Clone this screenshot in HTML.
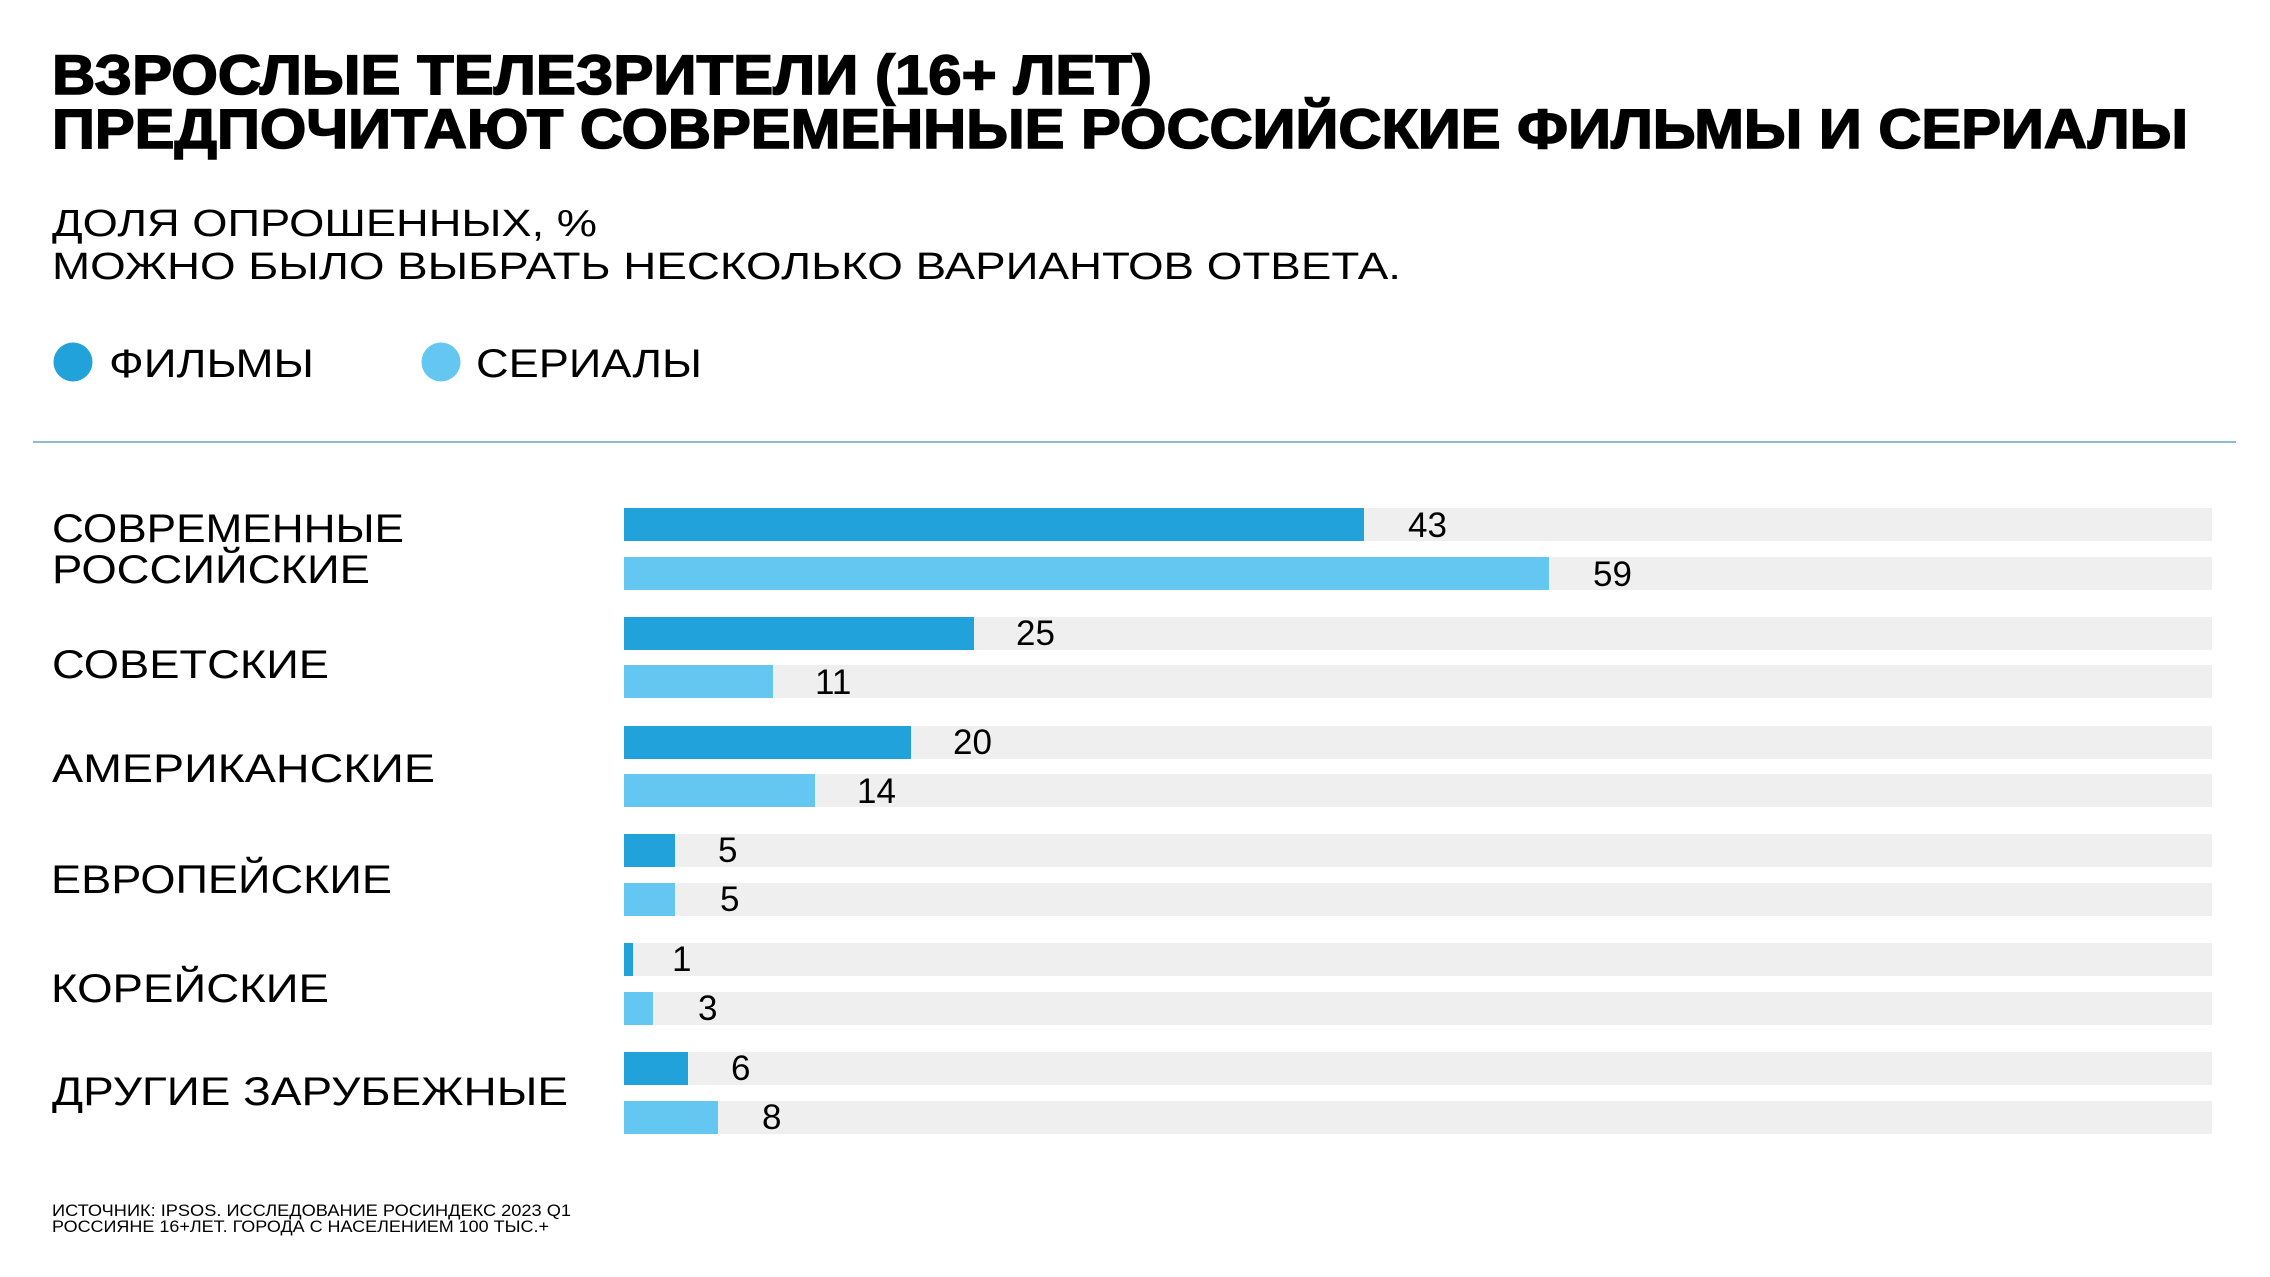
<!DOCTYPE html>
<html>
<head>
<meta charset="utf-8">
<style>
  html, body { margin: 0; padding: 0; background: #ffffff; }
  svg { display: block; }
  .t { font-family: "Liberation Sans", "Noto Sans CJK SC", sans-serif; fill: #000; }
  .b { font-weight: bold; stroke: #000; stroke-width: 1.6; }
</style>
</head>
<body>
<svg width="2270" height="1277" viewBox="0 0 2270 1277" xmlns="http://www.w3.org/2000/svg">
  <rect x="0" y="0" width="2270" height="1277" fill="#ffffff"/>

  <!-- Title -->
  <text class="t b" x="52" y="94" font-size="56" textLength="1100" lengthAdjust="spacingAndGlyphs">ВЗРОСЛЫЕ ТЕЛЕЗРИТЕЛИ (16+ ЛЕТ)</text>
  <text class="t b" x="52" y="148" font-size="56" textLength="2136" lengthAdjust="spacingAndGlyphs">ПРЕДПОЧИТАЮТ СОВРЕМЕННЫЕ РОССИЙСКИЕ ФИЛЬМЫ И СЕРИАЛЫ</text>

  <!-- Subtitle -->
  <text class="t" x="52" y="236" font-size="38" textLength="545" lengthAdjust="spacingAndGlyphs">ДОЛЯ ОПРОШЕННЫХ, %</text>
  <text class="t" x="52" y="279" font-size="38" textLength="1349" lengthAdjust="spacingAndGlyphs">МОЖНО БЫЛО ВЫБРАТЬ НЕСКОЛЬКО ВАРИАНТОВ ОТВЕТА.</text>

  <!-- Legend -->
  <circle cx="73" cy="362" r="19.5" fill="#21a2db"/>
  <text class="t" x="109" y="377" font-size="40" textLength="205" lengthAdjust="spacingAndGlyphs">ФИЛЬМЫ</text>
  <circle cx="441" cy="362" r="19.5" fill="#63c7f1"/>
  <text class="t" x="476" y="377" font-size="40" textLength="226" lengthAdjust="spacingAndGlyphs">СЕРИАЛЫ</text>

  <!-- Divider -->
  <rect x="33" y="441" width="2203" height="2" fill="#8fbad6"/>

  <!-- Tracks -->
  <g fill="#efefef">
    <rect x="624" y="508" width="1588" height="33"/>
    <rect x="624" y="557" width="1588" height="33"/>
    <rect x="624" y="617" width="1588" height="33"/>
    <rect x="624" y="665" width="1588" height="33"/>
    <rect x="624" y="726" width="1588" height="33"/>
    <rect x="624" y="774" width="1588" height="33"/>
    <rect x="624" y="834" width="1588" height="33"/>
    <rect x="624" y="883" width="1588" height="33"/>
    <rect x="624" y="943" width="1588" height="33"/>
    <rect x="624" y="992" width="1588" height="33"/>
    <rect x="624" y="1052" width="1588" height="33"/>
    <rect x="624" y="1101" width="1588" height="33"/>
  </g>

  <!-- Film bars -->
  <g fill="#21a2db">
    <rect x="624" y="508" width="740" height="33"/>
    <rect x="624" y="617" width="350" height="33"/>
    <rect x="624" y="726" width="287" height="33"/>
    <rect x="624" y="834" width="51" height="33"/>
    <rect x="624" y="943" width="9" height="33"/>
    <rect x="624" y="1052" width="64" height="33"/>
  </g>
  <!-- Series bars -->
  <g fill="#63c7f1">
    <rect x="624" y="557" width="925" height="33"/>
    <rect x="624" y="665" width="149" height="33"/>
    <rect x="624" y="774" width="191" height="33"/>
    <rect x="624" y="883" width="51" height="33"/>
    <rect x="624" y="992" width="29" height="33"/>
    <rect x="624" y="1101" width="94" height="33"/>
  </g>

  <!-- Value labels -->
  <g class="t" font-size="35">
    <text class="t" x="1408" y="537">43</text>
    <text class="t" x="1593" y="586">59</text>
    <text class="t" x="1016" y="645">25</text>
    <text class="t" x="815" y="694">11</text>
    <text class="t" x="953" y="754">20</text>
    <text class="t" x="857" y="803">14</text>
    <text class="t" x="718" y="862">5</text>
    <text class="t" x="720" y="911">5</text>
    <text class="t" x="672" y="971">1</text>
    <text class="t" x="698" y="1020">3</text>
    <text class="t" x="731" y="1080">6</text>
    <text class="t" x="762" y="1129">8</text>
  </g>

  <!-- Category labels -->
  <text class="t" x="52" y="542" font-size="40" textLength="352" lengthAdjust="spacingAndGlyphs">СОВРЕМЕННЫЕ</text>
  <text class="t" x="52" y="583" font-size="40" textLength="318" lengthAdjust="spacingAndGlyphs">РОССИЙСКИЕ</text>
  <text class="t" x="52" y="678" font-size="40" textLength="277" lengthAdjust="spacingAndGlyphs">СОВЕТСКИЕ</text>
  <text class="t" x="52" y="782" font-size="40" textLength="383" lengthAdjust="spacingAndGlyphs">АМЕРИКАНСКИЕ</text>
  <text class="t" x="51" y="893" font-size="40" textLength="341" lengthAdjust="spacingAndGlyphs">ЕВРОПЕЙСКИЕ</text>
  <text class="t" x="51" y="1002" font-size="40" textLength="278" lengthAdjust="spacingAndGlyphs">КОРЕЙСКИЕ</text>
  <text class="t" x="52" y="1105" font-size="40" textLength="516" lengthAdjust="spacingAndGlyphs">ДРУГИЕ ЗАРУБЕЖНЫЕ</text>

  <!-- Footer -->
  <text class="t" x="52" y="1216" font-size="16.5" textLength="519" lengthAdjust="spacingAndGlyphs">ИСТОЧНИК: IPSOS. ИССЛЕДОВАНИЕ РОСИНДЕКС 2023 Q1</text>
  <text class="t" x="52" y="1232" font-size="16.5" textLength="497" lengthAdjust="spacingAndGlyphs">РОССИЯНЕ 16+ЛЕТ. ГОРОДА С НАСЕЛЕНИЕМ 100 ТЫС.+</text>
</svg>
</body>
</html>
